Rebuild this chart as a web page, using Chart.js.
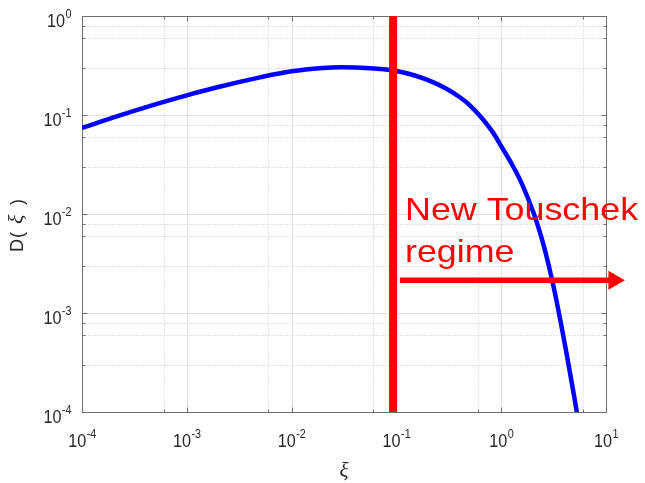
<!DOCTYPE html>
<html>
<head>
<meta charset="utf-8">
<script src="https://cdn.jsdelivr.net/npm/chart.js@4.4.0/dist/chart.umd.min.js"></script>
<style>
  body { margin: 0; background: #fff; }
  canvas { display: block; }
</style>
</head>
<body>
<canvas id="touschek" width="645" height="483"></canvas>
<script>
// D(xi) curve
var xi = [1e-4, 2e-4, 5e-4, 1e-3, 2e-3, 5e-3, 1e-2, 2e-2, 3e-2, 5e-2, 0.07, 0.1, 0.15, 0.223, 0.3, 0.4, 0.5, 0.65, 0.836, 1.0, 1.3, 1.6, 2.01, 2.4, 2.73, 3.12, 3.41, 4.06, 5.0, 5.52];
var D = [0.074, 0.0946, 0.128, 0.158, 0.192, 0.240, 0.276, 0.2985, 0.303, 0.2985, 0.292, 0.278, 0.2506, 0.215, 0.184, 0.152, 0.126, 0.0937, 0.0664, 0.0485, 0.0302, 0.0195, 0.01065, 0.00598, 0.0036, 0.00196, 0.00125, 0.000476, 0.000138, 0.000074];

// regime boundary and the arrow pointing into the new regime
var boundaryXi = 0.093;
var arrowXi = [0.108, 11.9];
var arrowD = 0.00214;

// axis ranges
var xRange = [1e-4, 10];
var yRange = [1e-4, 1];

var sans = '"Liberation Sans", Arial, sans-serif';
var serif = '"Liberation Serif", "Times New Roman", serif';
var ink = '#262626';

function curvePoints() {
  return xi.map(function (v, i) { return { x: v, y: D[i] }; });
}

function mantissa(v) {
  var e = Math.floor(Math.log10(v) + 1e-9);
  return v / Math.pow(10, e);
}
function isWhole(v) {
  var m = mantissa(v);
  return Math.abs(m - Math.round(m)) < 1e-6;
}
function isDecade(v) {
  return Math.abs(mantissa(v) - 1) < 1e-6;
}
// keep only 1..9 x 10^k ticks
function cleanTicks(axis) {
  axis.ticks = axis.ticks.filter(function (t) { return isWhole(t.value); });
}

function crisp(p) { return Math.round(p) + 0.5; }

// "10" with a raised exponent, y is the baseline of "10"
function powerLabel(ctx, x, y, exp, align) {
  var sx = 0.9;
  ctx.font = '18px ' + sans;
  var wb = ctx.measureText('10').width * sx;
  ctx.font = '12px ' + sans;
  var es = String(exp);
  var we = ctx.measureText(es).width * sx;
  var left = align === 'right' ? x - wb - we : x - (wb + we) / 2;
  ctx.save();
  ctx.translate(left, y);
  ctx.scale(sx, 1);
  ctx.fillStyle = ink;
  ctx.textAlign = 'left';
  ctx.textBaseline = 'alphabetic';
  ctx.font = '18px ' + sans;
  ctx.fillText('10', 0, 0);
  ctx.font = '12px ' + sans;
  ctx.fillText(es, wb / sx + 0.5, -9);
  ctx.restore();
}

var matlabAxes = {
  id: 'matlabAxes',
  beforeDatasetsDraw: function (chart) {
    var ctx = chart.ctx, a = chart.chartArea;
    var sx = chart.scales.x, sy = chart.scales.y;
    var L = crisp(a.left), R = crisp(a.right), T = crisp(a.top), B = crisp(a.bottom);
    ctx.save();
    ctx.lineWidth = 1;

    // minor grid
    ctx.strokeStyle = '#c8c8c8';
    ctx.setLineDash([1, 2]);
    ctx.beginPath();
    sx.ticks.forEach(function (t) {
      if (isDecade(t.value)) return;
      var p = crisp(sx.getPixelForValue(t.value));
      ctx.moveTo(p, T); ctx.lineTo(p, B);
    });
    sy.ticks.forEach(function (t) {
      if (isDecade(t.value)) return;
      var p = crisp(sy.getPixelForValue(t.value));
      ctx.moveTo(L, p); ctx.lineTo(R, p);
    });
    ctx.stroke();

    // major grid
    ctx.setLineDash([]);
    ctx.strokeStyle = '#dedede';
    ctx.beginPath();
    sx.ticks.forEach(function (t) {
      if (!isDecade(t.value)) return;
      var p = crisp(sx.getPixelForValue(t.value));
      ctx.moveTo(p, T); ctx.lineTo(p, B);
    });
    sy.ticks.forEach(function (t) {
      if (!isDecade(t.value)) return;
      var p = crisp(sy.getPixelForValue(t.value));
      ctx.moveTo(L, p); ctx.lineTo(R, p);
    });
    ctx.stroke();

    // box and inward ticks on all four sides
    ctx.strokeStyle = '#6e6e6e';
    ctx.strokeRect(L, T, R - L, B - T);
    ctx.beginPath();
    sx.ticks.forEach(function (t) {
      var p = crisp(sx.getPixelForValue(t.value));
      var len = isDecade(t.value) ? 5 : 3;
      ctx.moveTo(p, B); ctx.lineTo(p, B - len);
      ctx.moveTo(p, T); ctx.lineTo(p, T + len);
    });
    sy.ticks.forEach(function (t) {
      var p = crisp(sy.getPixelForValue(t.value));
      var len = isDecade(t.value) ? 5 : 3;
      ctx.moveTo(L, p); ctx.lineTo(L + len, p);
      ctx.moveTo(R, p); ctx.lineTo(R - len, p);
    });
    ctx.stroke();

    // tick labels
    sx.ticks.forEach(function (t) {
      if (!isDecade(t.value)) return;
      var e = Math.round(Math.log10(t.value));
      powerLabel(ctx, sx.getPixelForValue(t.value), a.bottom + 35, e, 'center');
    });
    sy.ticks.forEach(function (t) {
      if (!isDecade(t.value)) return;
      var e = Math.round(Math.log10(t.value));
      powerLabel(ctx, a.left - 11, sy.getPixelForValue(t.value) + 11, e, 'right');
    });

    // x title
    ctx.fillStyle = ink;
    ctx.textAlign = 'center';
    ctx.textBaseline = 'alphabetic';
    ctx.font = 'italic 21px ' + serif;
    ctx.fillText('\u03BE', (a.left + a.right) / 2, 477);

    // y title, rotated
    ctx.translate(23, 224);
    ctx.rotate(-Math.PI / 2);
    ctx.textAlign = 'left';
    ctx.font = '18px ' + sans;
    ctx.fillText('D', -28, 0);
    ctx.fillText('(', -14, 0);
    ctx.font = 'italic 22px ' + serif;
    ctx.fillText('\u03BE', 0, 0);
    ctx.font = '18px ' + sans;
    ctx.fillText(')', 19, 0);
    ctx.restore();
  },
  afterDraw: function (chart) {
    var ctx = chart.ctx;
    ctx.save();
    ctx.fillStyle = '#ff0000';
    ctx.textAlign = 'left';
    ctx.textBaseline = 'alphabetic';
    ctx.font = '32px ' + sans;
    ctx.translate(405, 0);
    ctx.scale(1.12, 1);
    ctx.fillText('New Touschek', 0, 220);
    ctx.fillText('regime', 0, 262);
    ctx.restore();
  }
};

new Chart(document.getElementById('touschek'), {
  type: 'line',
  data: {
    datasets: [
      {
        data: [{ x: boundaryXi, y: yRange[1] }, { x: boundaryXi, y: yRange[0] }],
        borderColor: '#ff0000',
        borderWidth: 8,
        borderCapStyle: 'butt',
        pointRadius: 0
      },
      {
        data: arrowXi.map(function (v) { return { x: v, y: arrowD }; }),
        borderColor: '#ff0000',
        borderWidth: 5.5,
        borderCapStyle: 'butt',
        pointRadius: [0, 11],
        pointStyle: 'triangle',
        rotation: 90,
        pointBackgroundColor: '#ff0000',
        pointBorderWidth: 0,
        clip: false
      },
      {
        data: curvePoints(),
        borderColor: '#0000ff',
        borderWidth: 4.5,
        pointRadius: 0,
        tension: 0.4
      }
    ]
  },
  options: {
    responsive: false,
    animation: false,
    devicePixelRatio: 1,
    events: [],
    layout: { padding: { left: 82, top: 16, right: 39, bottom: 71 } },
    plugins: { legend: { display: false }, tooltip: { enabled: false } },
    scales: {
      x: { type: 'logarithmic', min: xRange[0], max: xRange[1], display: false, afterBuildTicks: cleanTicks },
      y: { type: 'logarithmic', min: yRange[0], max: yRange[1], display: false, afterBuildTicks: cleanTicks }
    }
  },
  plugins: [matlabAxes]
});
</script>
</body>
</html>
